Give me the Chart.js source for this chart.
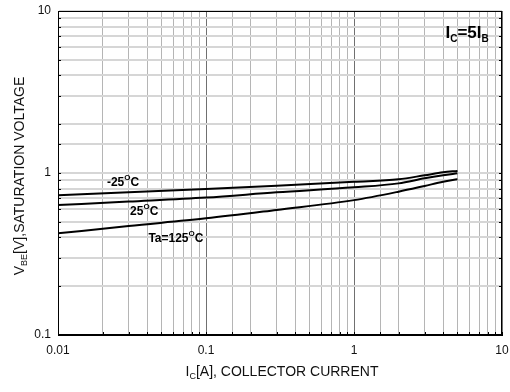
<!DOCTYPE html>
<html>
<head>
<meta charset="utf-8">
<script src="https://cdn.jsdelivr.net/npm/chart.js@4/dist/chart.umd.min.js"></script>
<style>
html, body { margin: 0; padding: 0; background: #fff; }
#wrap { width: 510px; height: 392px; }
</style>
</head>
<body>
<div id="wrap"><canvas id="vbeChart"></canvas></div>
<script>
// collector current (A)
var currentA = [0.01, 0.03, 0.1, 0.3, 1, 2, 3, 4, 5];

// VBE(sat) in volts
var vbeMinus25 = [0.73, 0.76, 0.796, 0.835, 0.883, 0.914, 0.968, 1.01, 1.03];
var vbe25 = [0.634, 0.666, 0.705, 0.76, 0.816, 0.863, 0.927, 0.968, 0.996];
var vbe125 = [0.424, 0.471, 0.525, 0.592, 0.68, 0.767, 0.832, 0.883, 0.914];

var xTickLabels = [0.01, 0.1, 1, 10];
var yTickLabels = [0.1, 1, 10];

// curve names, placed in data units
var curveNames = [
    { main: "-25", x: 0.0214, y: 0.867 },
    { main: "25", x: 0.0307, y: 0.574 },
    { main: "Ta=125", x: 0.0408, y: 0.392 }
];

function toPoints(xs, ys) {
    return xs.map(function (x, i) { return { x: x, y: ys[i] }; });
}

function isDecade(v) {
    var l = Math.log10(v);
    return Math.abs(l - Math.round(l)) < 1e-6;
}

function findLabel(list, v) {
    for (var i = 0; i < list.length; i++) {
        if (Math.abs(list[i] - v) / list[i] < 1e-6) return String(list[i]);
    }
    return '';
}

// draws a run of text pieces, each with its own size and vertical shift
function drawRuns(ctx, runs, x, y, align) {
    var total = 0;
    runs.forEach(function (r) {
        ctx.font = r.font;
        total += ctx.measureText(r.t).width;
    });
    var cx = align === 'center' ? x - total / 2 : x;
    ctx.textAlign = 'left';
    ctx.textBaseline = 'middle';
    runs.forEach(function (r) {
        ctx.font = r.font;
        ctx.fillText(r.t, cx, y + (r.dy || 0));
        cx += ctx.measureText(r.t).width;
    });
}

var extrasPlugin = {
    id: 'extras',
    beforeDatasetsDraw: function (chart) {
        var ctx = chart.ctx, a = chart.chartArea;
        var xs = chart.scales.x, ys = chart.scales.y;
        ctx.save();
        ctx.strokeStyle = '#000';
        ctx.lineWidth = 1;
        // small inward ticks on the frame
        ctx.beginPath();
        ys.ticks.forEach(function (t) {
            var py = Math.round(ys.getPixelForValue(t.value)) + 0.5;
            ctx.moveTo(a.left, py); ctx.lineTo(a.left + 3, py);
            ctx.moveTo(a.right, py); ctx.lineTo(a.right - 3, py);
        });
        xs.ticks.forEach(function (t) {
            var px = Math.round(xs.getPixelForValue(t.value)) + 0.5;
            ctx.moveTo(px, a.bottom); ctx.lineTo(px, a.bottom - 3);
        });
        ctx.stroke();
        ctx.strokeRect(a.left + 0.5, a.top + 0.5, a.right - a.left - 1, a.bottom - a.top - 1);
        ctx.restore();
    },
    afterDatasetsDraw: function (chart) {
        var ctx = chart.ctx, a = chart.chartArea;
        var xs = chart.scales.x, ys = chart.scales.y;
        var bold = 'bold 12px "Liberation Sans", Arial, sans-serif';
        var boldSmall = 'bold 8px "Liberation Sans", Arial, sans-serif';
        ctx.save();
        ctx.fillStyle = '#000';

        curveNames.forEach(function (c) {
            drawRuns(ctx, [
                { t: c.main, font: bold },
                { t: 'O', font: boldSmall, dy: -5 },
                { t: 'C', font: bold }
            ], xs.getPixelForValue(c.x), ys.getPixelForValue(c.y), 'left');
        });

        var big = 'bold 17px "Liberation Sans", Arial, sans-serif';
        var bigSub = 'bold 10px "Liberation Sans", Arial, sans-serif';
        drawRuns(ctx, [
            { t: 'I', font: big },
            { t: 'C', font: bigSub, dy: 6 },
            { t: '=5I', font: big },
            { t: 'B', font: bigSub, dy: 6 }
        ], xs.getPixelForValue(4.15), ys.getPixelForValue(7.31), 'left');

        var tf = '14px "Liberation Sans", Arial, sans-serif';
        var tfSub = '9px "Liberation Sans", Arial, sans-serif';
        ctx.fillStyle = '#111';
        drawRuns(ctx, [
            { t: 'I', font: tf },
            { t: 'C', font: tfSub, dy: 5 },
            { t: '[A], COLLECTOR CURRENT', font: tf }
        ], (a.left + a.right) / 2 + 2, 372, 'center');

        ctx.translate(20, (a.top + a.bottom) / 2 + 3);
        ctx.rotate(-Math.PI / 2);
        drawRuns(ctx, [
            { t: 'V', font: tf },
            { t: 'BE', font: tfSub, dy: 5 },
            { t: '[V],SATURATION VOLTAGE', font: tf }
        ], 0, 0, 'center');
        ctx.restore();
    }
};

var lineStyle = {
    borderColor: '#000',
    borderWidth: 2,
    pointRadius: 0,
    fill: false,
    cubicInterpolationMode: 'monotone'
};

new Chart(document.getElementById('vbeChart'), {
    type: 'line',
    data: {
        datasets: [
            Object.assign({ label: '-25', data: toPoints(currentA, vbeMinus25) }, lineStyle),
            Object.assign({ label: '25', data: toPoints(currentA, vbe25) }, lineStyle),
            Object.assign({ label: '125', data: toPoints(currentA, vbe125) }, lineStyle)
        ]
    },
    options: {
        responsive: true,
        maintainAspectRatio: false,
        animation: false,
        layout: { padding: { top: 11, right: 8, left: 0, bottom: 0 } },
        plugins: { legend: { display: false }, tooltip: { enabled: false } },
        scales: {
            x: {
                type: 'logarithmic',
                min: 0.01,
                max: 10,
                afterFit: function (s) {
                    s.height = 57;
                    s.paddingLeft = 0;
                    s.paddingRight = 0;
                },
                border: { display: true, color: '#000', width: 1 },
                grid: {
                    drawTicks: false,
                    color: function (c) { return isDecade(c.tick.value) ? '#707070' : '#b5b5b5'; }
                },
                ticks: {
                    autoSkip: false,
                    maxRotation: 0,
                    padding: 8,
                    color: '#111',
                    font: { family: '"Liberation Sans", Arial, sans-serif', size: 12 },
                    callback: function (v) { return findLabel(xTickLabels, v); }
                }
            },
            y: {
                type: 'logarithmic',
                min: 0.1,
                max: 10,
                afterFit: function (s) {
                    s.width = 58;
                    s.paddingTop = 0;
                    s.paddingBottom = 0;
                },
                border: { display: true, color: '#000', width: 1 },
                grid: {
                    drawTicks: false,
                    lineWidth: 2,
                    color: '#d6d6d6'
                },
                ticks: {
                    autoSkip: false,
                    padding: 7,
                    color: '#111',
                    font: { family: '"Liberation Sans", Arial, sans-serif', size: 12 },
                    callback: function (v) { return findLabel(yTickLabels, v); }
                }
            }
        }
    },
    plugins: [extrasPlugin]
});
</script>
</body>
</html>
